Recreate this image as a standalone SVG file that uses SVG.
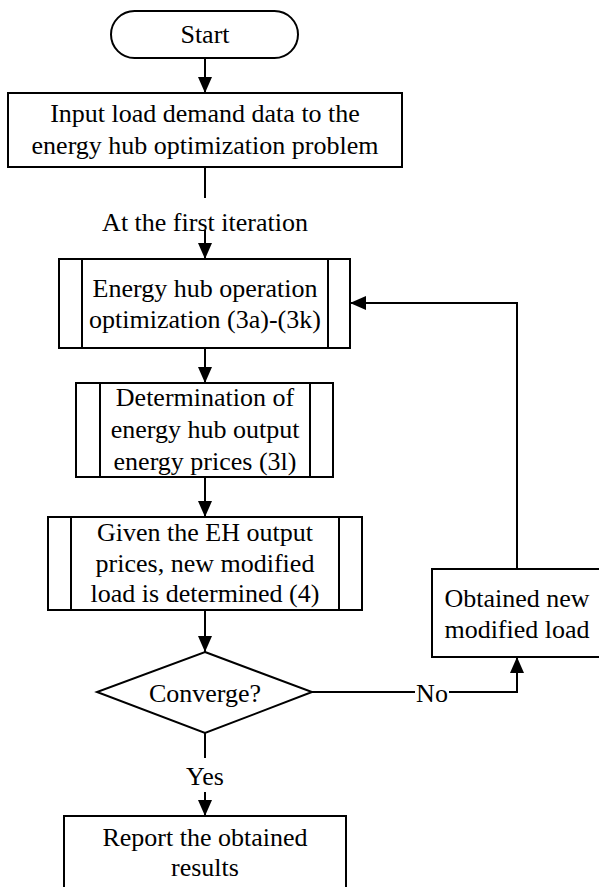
<svg xmlns="http://www.w3.org/2000/svg" width="599" height="887" viewBox="0 0 599 887">
<style>
  .box { fill: #fff; stroke: #000; stroke-width: 2; }
  .ln { fill: none; stroke: #000; stroke-width: 2; }
  text { font-family: 'Liberation Serif', 'Times New Roman', Tinos, 'Noto Serif', 'DejaVu Serif', serif; font-size: 26px; fill: #000; text-anchor: middle; }
</style>
<defs>
  <marker id="arr" markerUnits="userSpaceOnUse" markerWidth="16" markerHeight="14" refX="16" refY="7" orient="auto">
    <path d="M0,0 L16,7 L0,14 z" fill="#000"/>
  </marker>
</defs>
<rect width="599" height="887" fill="#fff"/>
<g id="connectors">
  <path class="ln" d="M205,58 V93" marker-end="url(#arr)"/>
  <path class="ln" d="M205,167 V198"/>
  <path class="ln" d="M205,230 V259" marker-end="url(#arr)"/>
  <path class="ln" d="M205,348 V383" marker-end="url(#arr)"/>
  <path class="ln" d="M205,477 V517" marker-end="url(#arr)"/>
  <path class="ln" d="M205,610 V652" marker-end="url(#arr)"/>
  <path class="ln" d="M205,733 V758"/>
  <path class="ln" d="M205,792 V816" marker-end="url(#arr)"/>
  <path class="ln" d="M312,692 H415"/>
  <path class="ln" d="M449,692 H517 V657" marker-end="url(#arr)"/>
  <path class="ln" d="M517,569 V303 H350" marker-end="url(#arr)"/>
  <text x="205" y="231">At the first iteration</text>
  <text x="432" y="702">No</text>
  <text x="205" y="785">Yes</text>
</g>
<g id="start">
  <rect class="box" x="111" y="11" width="187" height="47" rx="23.5"/>
  <text x="205" y="43">Start</text>
</g>
<g id="input">
  <rect class="box" x="8" y="93" width="394" height="74"/>
  <text x="205" y="122">Input load demand data to the</text>
  <text x="205" y="154">energy hub optimization problem</text>
</g>
<g id="optimization">
  <rect class="box" x="59" y="259" width="291" height="89"/>
  <path class="ln" d="M82,259 V348 M328,259 V348"/>
  <text x="205" y="297">Energy hub operation</text>
  <text x="205" y="328">optimization (3a)-(3k)</text>
</g>
<g id="prices">
  <rect class="box" x="76" y="383" width="257" height="94"/>
  <path class="ln" d="M100,383 V477 M310,383 V477"/>
  <text x="205" y="406">Determination of</text>
  <text x="205" y="438">energy hub output</text>
  <text x="205" y="470">energy prices (3l)</text>
</g>
<g id="modified">
  <rect class="box" x="48" y="517" width="314" height="93"/>
  <path class="ln" d="M71,517 V610 M339,517 V610"/>
  <text x="205" y="541">Given the EH output</text>
  <text x="205" y="572">prices, new modified</text>
  <text x="205" y="602">load is determined (4)</text>
</g>
<g id="converge">
  <path class="box" d="M205,652 L312,692 L205,733 L97,692 Z"/>
  <text x="205" y="702">Converge?</text>
</g>
<g id="obtained">
  <rect class="box" x="432" y="569" width="170" height="88"/>
  <text x="517" y="607">Obtained new</text>
  <text x="517" y="638">modified load</text>
</g>
<g id="report">
  <rect class="box" x="64" y="816" width="282" height="80"/>
  <text x="205" y="846">Report the obtained</text>
  <text x="205" y="876">results</text>
</g>
</svg>
